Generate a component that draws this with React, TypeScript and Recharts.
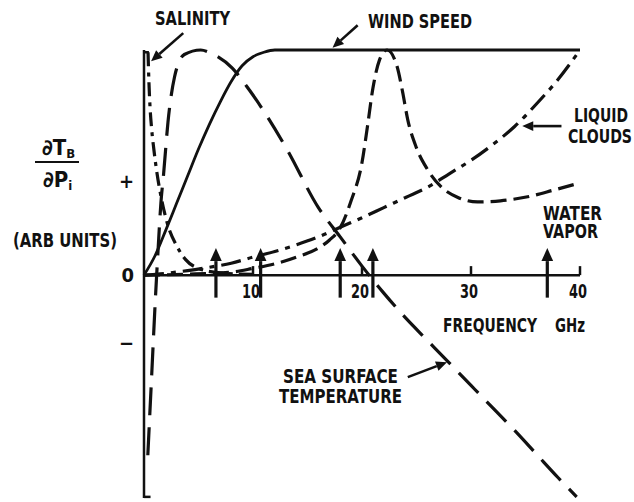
import React from "react";
import { ComposedChart, Line, Scatter, XAxis, YAxis, ReferenceLine } from "recharts";

type Pt = { x: number; y: number };
const pts = (arr: number[][]): Pt[] => arr.map(([x, y]) => ({ x, y }));

// frequency (GHz) vs sensitivity (arb units)
const windSpeed = pts([
  [0, 0], [1, 0.085], [2, 0.2], [3, 0.32], [4, 0.44], [5, 0.56], [6, 0.67],
  [7, 0.77], [8, 0.86], [9, 0.93], [10, 0.97], [11, 0.99], [12, 1.0], [40, 1.0],
]);

const salinity = pts([
  [0.37, 0.99], [0.45, 0.86], [0.55, 0.75], [0.7, 0.65], [0.9, 0.56], [1.2, 0.45],
  [1.6, 0.34], [2.2, 0.22], [3.0, 0.13], [3.8, 0.07], [5.0, 0.03], [7.0, 0.01], [10, 0.003],
]);

const seaSurfaceTemp = pts([
  [0.35, -0.8], [0.7, -0.45], [1.05, -0.1], [1.3, 0.12], [1.55, 0.32], [1.8, 0.45],
  [2.2, 0.68], [2.8, 0.88], [3.7, 0.98], [5.2, 1.0], [6.2, 0.985], [8.1, 0.92],
  [9.7, 0.82], [13.1, 0.56], [16, 0.3], [18, 0.17], [20, 0.04], [22, -0.08],
  [24, -0.19], [26, -0.29], [28, -0.39], [30, -0.49], [32, -0.59], [34, -0.69],
  [36, -0.795], [38, -0.9], [39.7, -0.985],
]);

const waterVapor = pts([
  [0, 0], [4, 0.004], [8, 0.013], [10, 0.03], [12, 0.05], [14, 0.08], [16, 0.12],
  [17, 0.155], [18, 0.21], [19, 0.33], [20, 0.5], [20.5, 0.66], [21, 0.83],
  [21.6, 0.955], [22.3, 1.0], [23.2, 0.93], [23.7, 0.82], [24.2, 0.69], [25, 0.565],
  [26, 0.47], [27.2, 0.395], [28.8, 0.345], [30.6, 0.325], [32.7, 0.33],
  [35.2, 0.348], [37.6, 0.378], [40, 0.41],
]);

const liquidClouds = pts([
  [0, 0], [2, 0.008], [4, 0.02], [6, 0.035], [8, 0.053], [10, 0.08], [12, 0.105],
  [14, 0.135], [16, 0.17], [18, 0.213], [20, 0.255], [22, 0.3], [24, 0.345],
  [26, 0.39], [28, 0.45], [30, 0.51], [32, 0.58], [34, 0.66], [36, 0.76],
  [38, 0.87], [40, 1.0],
]);

// radiometer channels (GHz)
const channels = [6.6, 10.7, 18, 21, 37];
const channelLow = -0.1;
const channelHigh = 0.12;

const freqTicks = [10, 20, 30, 40];
const yTicks = [-0.3, 0, 0.42];

// label pointers: [fromX, fromY, toX, toY] in data units
const pointers = [
  [3.6, 1.075, 0.65, 0.95],
  [19.6, 1.11, 17.3, 1.01],
  [38.3, 0.662, 34.7, 0.662],
  [24.2, -0.453, 27.8, -0.387],
];

const FONT = "'DejaVu Sans Condensed', 'Liberation Sans', sans-serif";
const INK = "#111";

function arrow(p: any, head: number, w: number) {
  const { x1, y1, x2, y2 } = p;
  const a = Math.atan2(y2 - y1, x2 - x1);
  const hw = head * 0.45;
  const bx = x2 - head * Math.cos(a);
  const by = y2 - head * Math.sin(a);
  const s = Math.sin(a);
  const c = Math.cos(a);
  const poly = `${x2},${y2} ${bx + hw * s},${by - hw * c} ${bx - hw * s},${by + hw * c}`;
  return (
    <g>
      <line x1={x1} y1={y1} x2={bx} y2={by} stroke={INK} strokeWidth={w} />
      <polygon points={poly} fill={INK} />
    </g>
  );
}

function FreqTick(props: any) {
  const { cx, cy, payload } = props;
  return (
    <g>
      <line x1={cx} y1={cy - 9} x2={cx} y2={cy} stroke={INK} strokeWidth={2.5} />
      <text
        x={cx - 2}
        y={cy + 23}
        textAnchor="middle"
        fontFamily={FONT}
        fontWeight="bold"
        fontSize={20}
        fill={INK}
        textLength={18}
        lengthAdjust="spacingAndGlyphs"
      >
        {payload.x}
      </text>
    </g>
  );
}

const txt = { fontFamily: FONT, fontWeight: "bold" as const, fill: INK, lengthAdjust: "spacingAndGlyphs" };

export default function App() {
  return (
    <div style={{ position: "absolute", left: 0, top: 0, width: 634, height: 502, background: "#fff" }}>
      <ComposedChart width={634} height={502} margin={{ top: 50, right: 54, bottom: 4, left: 114 }}>
        <XAxis dataKey="x" type="number" domain={[0, 40]} hide />
        <YAxis
          type="number"
          domain={[-0.99, 1]}
          ticks={yTicks}
          width={30}
          tickLine={false}
          tickSize={8}
          axisLine={{ stroke: INK, strokeWidth: 2.5 }}
          tick={{ fontFamily: FONT, fontWeight: "bold", fontSize: 20, fill: INK }}
          tickFormatter={(v: number) => (v > 0 ? "+" : v < 0 ? "−" : "0")}
        />
        <ReferenceLine y={0} stroke={INK} strokeWidth={2.5} />
        <ReferenceLine segment={[{ x: 0, y: 0.99 }, { x: 0.45, y: 0.99 }]} stroke={INK} strokeWidth={2.5} ifOverflow="visible" />
        <ReferenceLine segment={[{ x: 0, y: -0.985 }, { x: 0.6, y: -0.985 }]} stroke={INK} strokeWidth={2.5} ifOverflow="visible" />
        {channels.map((f) => (
          <ReferenceLine
            key={"ch" + f}
            segment={[{ x: f, y: channelLow }, { x: f, y: channelHigh }]}
            ifOverflow="visible"
            shape={(p: any) => arrow(p, 13, 3.2)}
          />
        ))}
        {pointers.map((q, i) => (
          <ReferenceLine
            key={"pt" + i}
            segment={[{ x: q[0], y: q[1] }, { x: q[2], y: q[3] }]}
            ifOverflow="visible"
            shape={(p: any) => arrow(p, 11, 2.6)}
          />
        ))}
        <Line data={windSpeed} dataKey="y" type="monotone" stroke={INK} strokeWidth={2.8} dot={false} activeDot={false} isAnimationActive={false} />
        <Line data={seaSurfaceTemp} dataKey="y" type="monotone" stroke={INK} strokeWidth={3.2} strokeDasharray="28 12" dot={false} activeDot={false} isAnimationActive={false} />
        <Line data={salinity} dataKey="y" type="monotone" stroke={INK} strokeWidth={3.2} strokeDasharray="14 6 4 6" dot={false} activeDot={false} isAnimationActive={false} />
        <Line data={waterVapor} dataKey="y" type="monotone" stroke={INK} strokeWidth={3.2} strokeDasharray="16 7" dot={false} activeDot={false} isAnimationActive={false} />
        <Line data={liquidClouds} dataKey="y" type="monotone" stroke={INK} strokeWidth={3.2} strokeDasharray="20 7 5 7" dot={false} activeDot={false} isAnimationActive={false} />
        <Scatter data={freqTicks.map((t) => ({ x: t, y: 0 }))} dataKey="y" shape={FreqTick} isAnimationActive={false} />
      </ComposedChart>
      <svg width={634} height={502} style={{ position: "absolute", left: 0, top: 0, pointerEvents: "none" }}>
        <text x={155} y={25} fontSize={20} textLength={75} {...txt}>SALINITY</text>
        <text x={368} y={28} fontSize={20} textLength={104} {...txt}>WIND SPEED</text>
        <text x={574} y={122} fontSize={20} textLength={54} {...txt}>LIQUID</text>
        <text x={568} y={143} fontSize={20} textLength={64} {...txt}>CLOUDS</text>
        <text x={543} y={220} fontSize={20} textLength={59} {...txt}>WATER</text>
        <text x={543} y={238} fontSize={20} textLength={55} {...txt}>VAPOR</text>
        <text x={443} y={332} fontSize={20} textLength={94} {...txt}>FREQUENCY</text>
        <text x={555} y={332} fontSize={20} textLength={30} {...txt}>GHz</text>
        <text x={283} y={383} fontSize={20} textLength={115} {...txt}>SEA SURFACE</text>
        <text x={279} y={403} fontSize={20} textLength={123} {...txt}>TEMPERATURE</text>
        <text x={13} y={247} fontSize={20} textLength={104} {...txt}>(ARB UNITS)</text>
        <text x={42} y={155} fontSize={22} {...txt}>∂T<tspan fontSize={13} dy={3}>B</tspan></text>
        <line x1={35} y1={162} x2={79} y2={162} stroke={INK} strokeWidth={2} />
        <text x={43} y={187} fontSize={22} {...txt}>∂P<tspan fontSize={13} dy={3}>i</tspan></text>
      </svg>
    </div>
  );
}
